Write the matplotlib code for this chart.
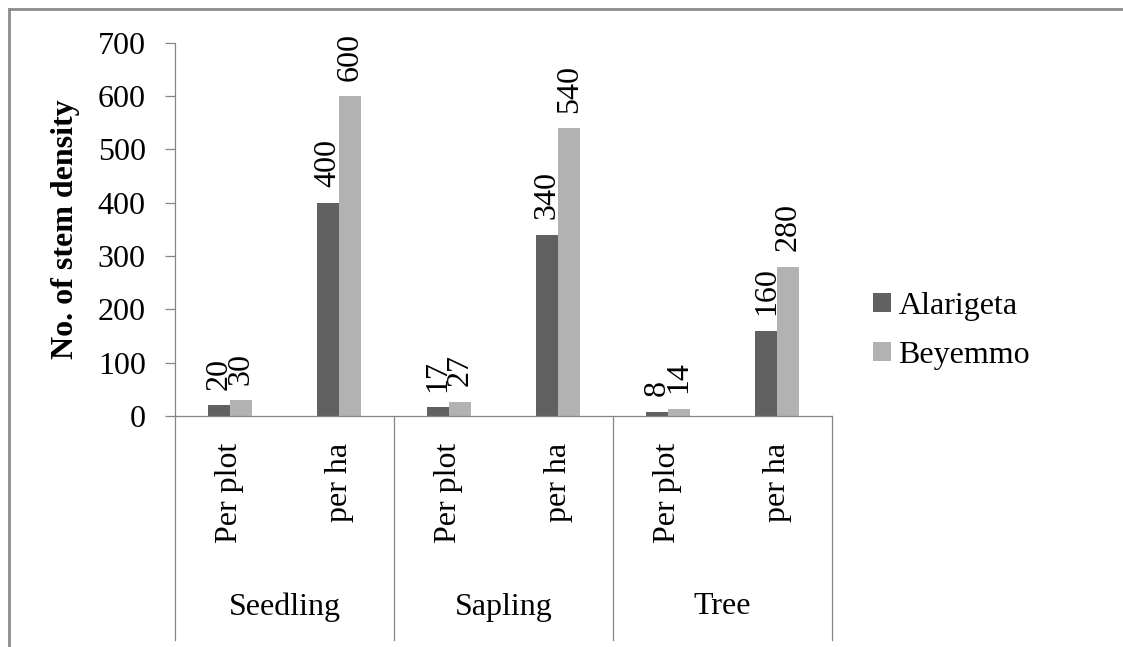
import numpy as np
import matplotlib
matplotlib.use('Agg')
import matplotlib.pyplot as plt
from matplotlib.lines import Line2D

plt.rcParams['font.family'] = ['Liberation Serif', 'DejaVu Serif']

stages = ['Seedling', 'Sapling', 'Tree']
units = ['Per plot', 'per ha', 'Per plot', 'per ha', 'Per plot', 'per ha']
alarigeta = [20, 400, 17, 340, 8, 160]
beyemmo = [30, 600, 27, 540, 14, 280]
yticks = [0, 100, 200, 300, 400, 500, 600, 700]

dark = '#606060'
light = '#b2b2b2'
axis_gray = '#868686'
fs = 23

W, H = 1123, 647
fig = plt.figure(figsize=(W / 100, H / 100), dpi=100)
# axes box in pixels: x 175..832, y 42.7..416 from top
ax = fig.add_axes([175 / W, 1 - 416 / H, 657 / W, 373.3 / H])

x = np.arange(len(units))
bw = 0.2
b1 = ax.bar(x - bw / 2, alarigeta, bw, color=dark, label='Alarigeta')
b2 = ax.bar(x + bw / 2, beyemmo, bw, color=light, label='Beyemmo')

for bars, vals in ((b1, alarigeta), (b2, beyemmo)):
    for r, v in zip(bars, vals):
        ax.annotate(str(v), (r.get_x() + r.get_width() / 2, v),
                    xytext=(0, 11), textcoords='offset points',
                    rotation=90, ha='center', va='bottom', fontsize=fs)

ax.set_xlim(-0.5, 5.5)
ax.set_ylim(0, 700)
ax.set_yticks(yticks)
ax.tick_params(axis='y', direction='out', length=7, width=0.9,
               color=axis_gray, pad=14, labelsize=fs)
ax.set_xticks([])
for s in ('top', 'right'):
    ax.spines[s].set_visible(False)
for s in ('left', 'bottom'):
    ax.spines[s].set_color(axis_gray)
    ax.spines[s].set_linewidth(0.9)

# two-level category axis: unit labels, stage labels and separators
trans = ax.get_xaxis_transform()
ybot = (416 - 640) / 373.3
for xs in (-0.5, 1.5, 3.5, 5.5):
    ax.plot([xs, xs], [0, ybot], transform=trans, color=axis_gray,
            lw=0.9, clip_on=False)
for xi, u in zip(x, units):
    ax.text(xi, (416 - 443) / 373.3, u, transform=trans, rotation=90,
            ha='center', va='top', fontsize=fs)
for i, st in enumerate(stages):
    ax.text(2 * i + 0.5, (416 - 607) / 373.3, st, transform=trans,
            ha='center', va='center', fontsize=fs)

ax.text((66 - 175) / 657, 0.5, 'No. of stem density', transform=ax.transAxes,
        rotation=90, ha='center', va='center', fontsize=fs, fontweight='bold')

ax.legend(loc='center left', bbox_to_anchor=(873 / W, 1 - 331 / H),
          bbox_transform=fig.transFigure, frameon=False, fontsize=fs,
          handlelength=0.55, handleheight=0.55, handletextpad=0.25,
          labelspacing=0.62, borderpad=0, borderaxespad=0)

# outer chart frame
fig.add_artist(Line2D([9 / W, 9 / W], [0, 1 - 9 / H], color='#8c8c8c', lw=2))
fig.add_artist(Line2D([9 / W, 1], [1 - 9 / H, 1 - 9 / H], color='#8c8c8c', lw=2))

fig.savefig('out.png', dpi=100)
